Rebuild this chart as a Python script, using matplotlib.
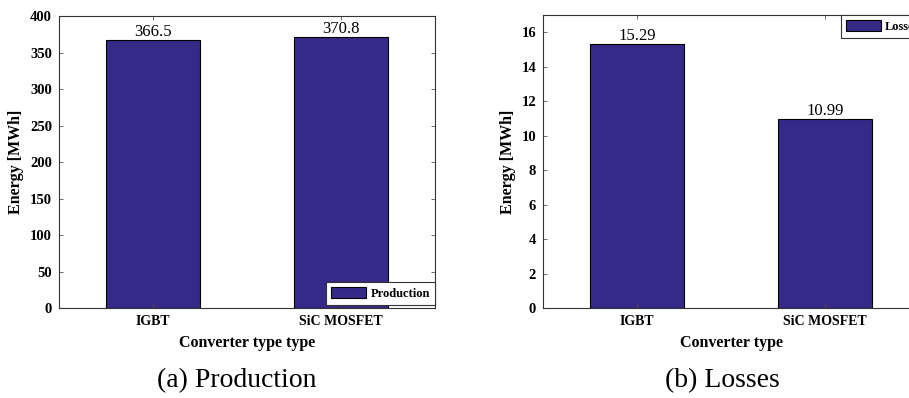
import matplotlib
matplotlib.use("Agg")
import matplotlib.pyplot as plt
import numpy as np

# data
categories = ["IGBT", "SiC MOSFET"]
production = [366.5, 370.8]
losses = [15.29, 10.99]
prod_ticks = [0, 50, 100, 150, 200, 250, 300, 350, 400]
loss_ticks = [0, 2, 4, 6, 8, 10, 12, 14, 16]

plt.rcParams["font.family"] = ["Liberation Serif", "DejaVu Serif"]
bar_color = "#352A87"

fig = plt.figure(figsize=(9.09, 3.98), dpi=100)
ax1 = fig.add_axes([0.0649, 0.2261, 0.4136, 0.7337])
ax2 = fig.add_axes([0.5974, 0.2261, 0.4136, 0.7362])


def draw_panel(ax, values, ticks, ylim, xlabel, legend_label, legend_loc,
               anchor, fmt):
    x = np.arange(1, len(values) + 1)
    bars = ax.bar(x, values, width=0.5, color=bar_color, edgecolor="black",
                  linewidth=0.8, label=legend_label)
    for b, v in zip(bars, values):
        ax.text(b.get_x() + b.get_width() / 2, v, fmt % v, ha="center",
                va="bottom", fontsize=12)
    ax.set_xlim(0.5, len(values) + 0.5)
    ax.set_ylim(*ylim)
    ax.set_xticks(x)
    ax.set_xticklabels(categories, fontweight="bold", fontsize=10)
    ax.set_yticks(ticks)
    ax.set_yticklabels([str(t) for t in ticks], fontweight="bold", fontsize=10.5)
    ax.tick_params(direction="in", top=True, right=True, length=3,
                   width=0.6, color="#555555", pad=5)
    for s in ax.spines.values():
        s.set_linewidth(0.8)
        s.set_color("#333333")
    ax.set_xlabel(xlabel, fontweight="bold", fontsize=11.5, labelpad=5)
    ax.set_ylabel("Energy [MWh]", fontweight="bold", fontsize=11.5, labelpad=4)
    leg = ax.legend(loc=legend_loc, bbox_to_anchor=anchor, borderaxespad=0,
                    fancybox=False, framealpha=1, edgecolor="#333333",
                    prop={"weight": "bold", "size": 9},
                    handlelength=2.8, handleheight=1.0, borderpad=0.4,
                    handletextpad=0.35)
    leg.get_frame().set_linewidth(0.8)


draw_panel(ax1, production, prod_ticks, (0, 400), "Converter type type",
           "Production", "lower right", (1.0, 0.01), "%.1f")
# the reference crops the right panel, its legend runs past the edge
draw_panel(ax2, losses, loss_ticks, (0, 17), "Converter type",
           "Losses", "upper right", (1.014, 1.0), "%.2f")

fig.text(237 / 909, 1 - 381 / 398, "(a) Production", ha="center",
         va="center", fontsize=20)
fig.text(722 / 909, 1 - 381 / 398, "(b) Losses", ha="center",
         va="center", fontsize=20)

fig.savefig("out.png", dpi=100)
